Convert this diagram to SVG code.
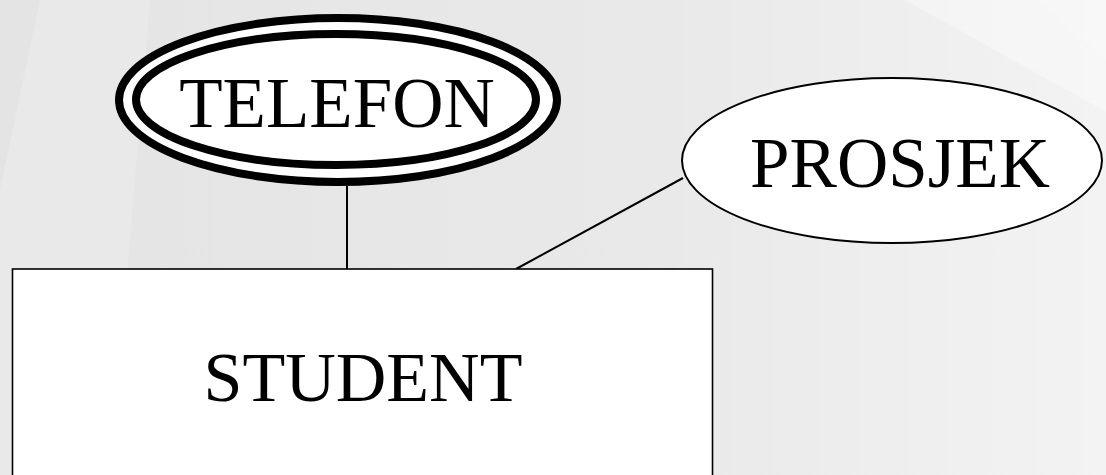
<svg xmlns="http://www.w3.org/2000/svg" width="1106" height="475" viewBox="0 0 1106 475">
  <defs>
    <linearGradient id="bg" x1="0" y1="0" x2="1" y2="0">
      <stop offset="0" stop-color="#e4e4e4"/>
      <stop offset="0.6" stop-color="#e9e9e9"/>
      <stop offset="1" stop-color="#f3f3f3"/>
    </linearGradient>
    <style>
      .label { font-family: "Liberation Serif", "Times New Roman", serif; fill: #000; text-anchor: middle; }
      .shape { fill: #fff; stroke: #000; }
      .conn { stroke: #000; stroke-width: 2; fill: none; }
    </style>
  </defs>

  <!-- backdrop with faint facets -->
  <rect x="0" y="0" width="1106" height="475" fill="url(#bg)"/>
  <polygon points="40,0 150,0 110,475 0,475 0,190" fill="#ffffff" opacity="0.18"/>
  <polygon points="905,0 1106,0 1106,112" fill="#ffffff" opacity="0.35"/>
  <polygon points="1040,0 1106,0 1106,60" fill="#ffffff" opacity="0.2"/>

  <!-- connectors -->
  <g id="connectors">
    <line class="conn" x1="347" y1="186" x2="347" y2="269"/>
    <line class="conn" x1="683" y1="178" x2="516" y2="269"/>
  </g>

  <!-- multivalued attribute -->
  <g id="telefon">
    <ellipse class="shape" cx="338" cy="100" rx="219" ry="82" stroke-width="8"/>
    <ellipse class="shape" cx="336" cy="99.5" rx="200" ry="65.5" stroke-width="8"/>
    <text class="label" x="337" y="127" font-size="71">TELEFON</text>
  </g>

  <!-- simple attribute -->
  <g id="prosjek">
    <ellipse class="shape" cx="892" cy="160.5" rx="210" ry="82.5" stroke-width="2"/>
    <text class="label" x="900" y="187" font-size="71">PROSJEK</text>
  </g>

  <!-- entity -->
  <g id="student">
    <rect class="shape" x="12.5" y="269" width="700" height="220" stroke-width="1.6"/>
    <text class="label" x="363" y="401" font-size="70">STUDENT</text>
  </g>
</svg>
